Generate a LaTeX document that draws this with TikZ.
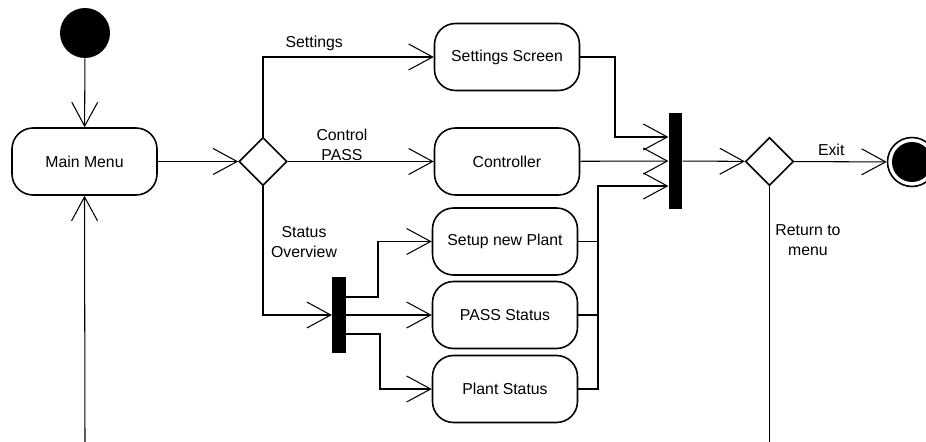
\documentclass[tikz,border=0pt]{standalone}
\usepackage{fontspec}
\setmainfont{Liberation Sans}
\usetikzlibrary{arrows.meta, positioning, shapes.geometric}
\tikzset{
  activity/.style={draw, rounded corners=0.42cm, line width=0.9pt, minimum width=2.9cm,
    minimum height=1.34cm, font=\fontsize{9}{11}\selectfont},
  decision/.style={draw, diamond, aspect=1, line width=0.9pt, minimum size=0.96cm, inner sep=0pt},
  syncbar/.style={fill=black, inner sep=0pt, minimum width=0.27cm},
  flow/.style={draw, line width=0.6pt, -{Straight Barb[length=4.8mm, width=5.2mm]}},
  plain/.style={draw, line width=0.6pt},
  guard/.style={font=\fontsize{9}{11}\selectfont, align=center},
  % Start and end states
  initial/.style={circle, fill=black, minimum size=1cm, inner sep=0pt},
  final/.style={circle, draw, line width=0.9pt, minimum size=0.98cm, inner sep=0pt,
    path picture={\fill (path picture bounding box.center) circle (0.4cm);}}
}

\begin{document}
\begin{tikzpicture}[x=0.02cm, y=-0.02cm]
  \useasboundingbox (0,0) rectangle (926,442);

  % ---- States -------------------------------------------------------------
  \node[initial] (start) at (85,33) {};
  \node[activity] (menu) at (84.5,161.5) {Main Menu};
  \node[decision] (branch) at (263,161.5) {};
  \node[activity] (settings) at (507,57) {Settings Screen};
  \node[activity] (control) at (507,161.5) {Controller};
  \node[activity] (setup) at (505,241.5) {Setup new Plant};
  \node[activity] (pstatus) at (505,315) {PASS Status};
  \node[activity] (plstatus) at (505,389) {Plant Status};

  % ---- Fork / join bars ---------------------------------------------------
  \node[syncbar, minimum height=1.54cm] (fork) at (339,315) {};
  \node[syncbar, minimum height=1.94cm] (join) at (675.5,161) {};
  \node[decision] (merge) at (769.5,161.5) {};
  \node[final] (stop) at (912,162) {};

  % ---- Loop ends (cut off at the bottom) ----------------------------------
  \coordinate (retL) at (85,442);
  \coordinate (retR) at (769.5,442);

  % ---- Transitions --------------------------------------------------------
  \draw[flow] (start) -- (menu);
  \draw[flow] (menu) -- (branch);
  \draw[flow] (branch.north) |- node[guard, pos=0.65, above] (lblsettings) {Settings} (settings.west);
  \draw[flow] (branch) -- (control);
  \node[guard] (lblcontrol) at (342,145) {Control\\PASS};
  \draw[flow] (branch.south) |- (fork.west);
  \node[guard] (lblstatus) at (304,242) {Status\\Overview};

  \draw[flow] (fork.east |- 0,297) -- (378,297) |- (setup.west);
  \draw[flow] (fork) -- (pstatus);
  \draw[flow] (fork.east |- 0,334) -- (380,334) |- (plstatus.west);

  \draw[flow] (settings.east) -| (615,137) -- (join.west |- 0,137);
  \draw[flow] (control) -- (join);
  \draw[plain] (setup.east) -- (598,241.5);
  \draw[plain] (pstatus.east) -- (598,315);
  \draw[flow] (plstatus.east) -| (598,186) -- (join.west |- 0,186);

  \draw[flow] (join) -- (merge);
  \draw[flow] (merge) -- node[guard, above, pos=0.4] (lblexit) {Exit} (stop);
  \draw[plain] (merge.south) -- (retR);
  \node[guard] (lblreturn) at (808,240) {Return to\\menu};
  \draw[flow] (retL) -- (menu.south);

\end{tikzpicture}
\end{document}
